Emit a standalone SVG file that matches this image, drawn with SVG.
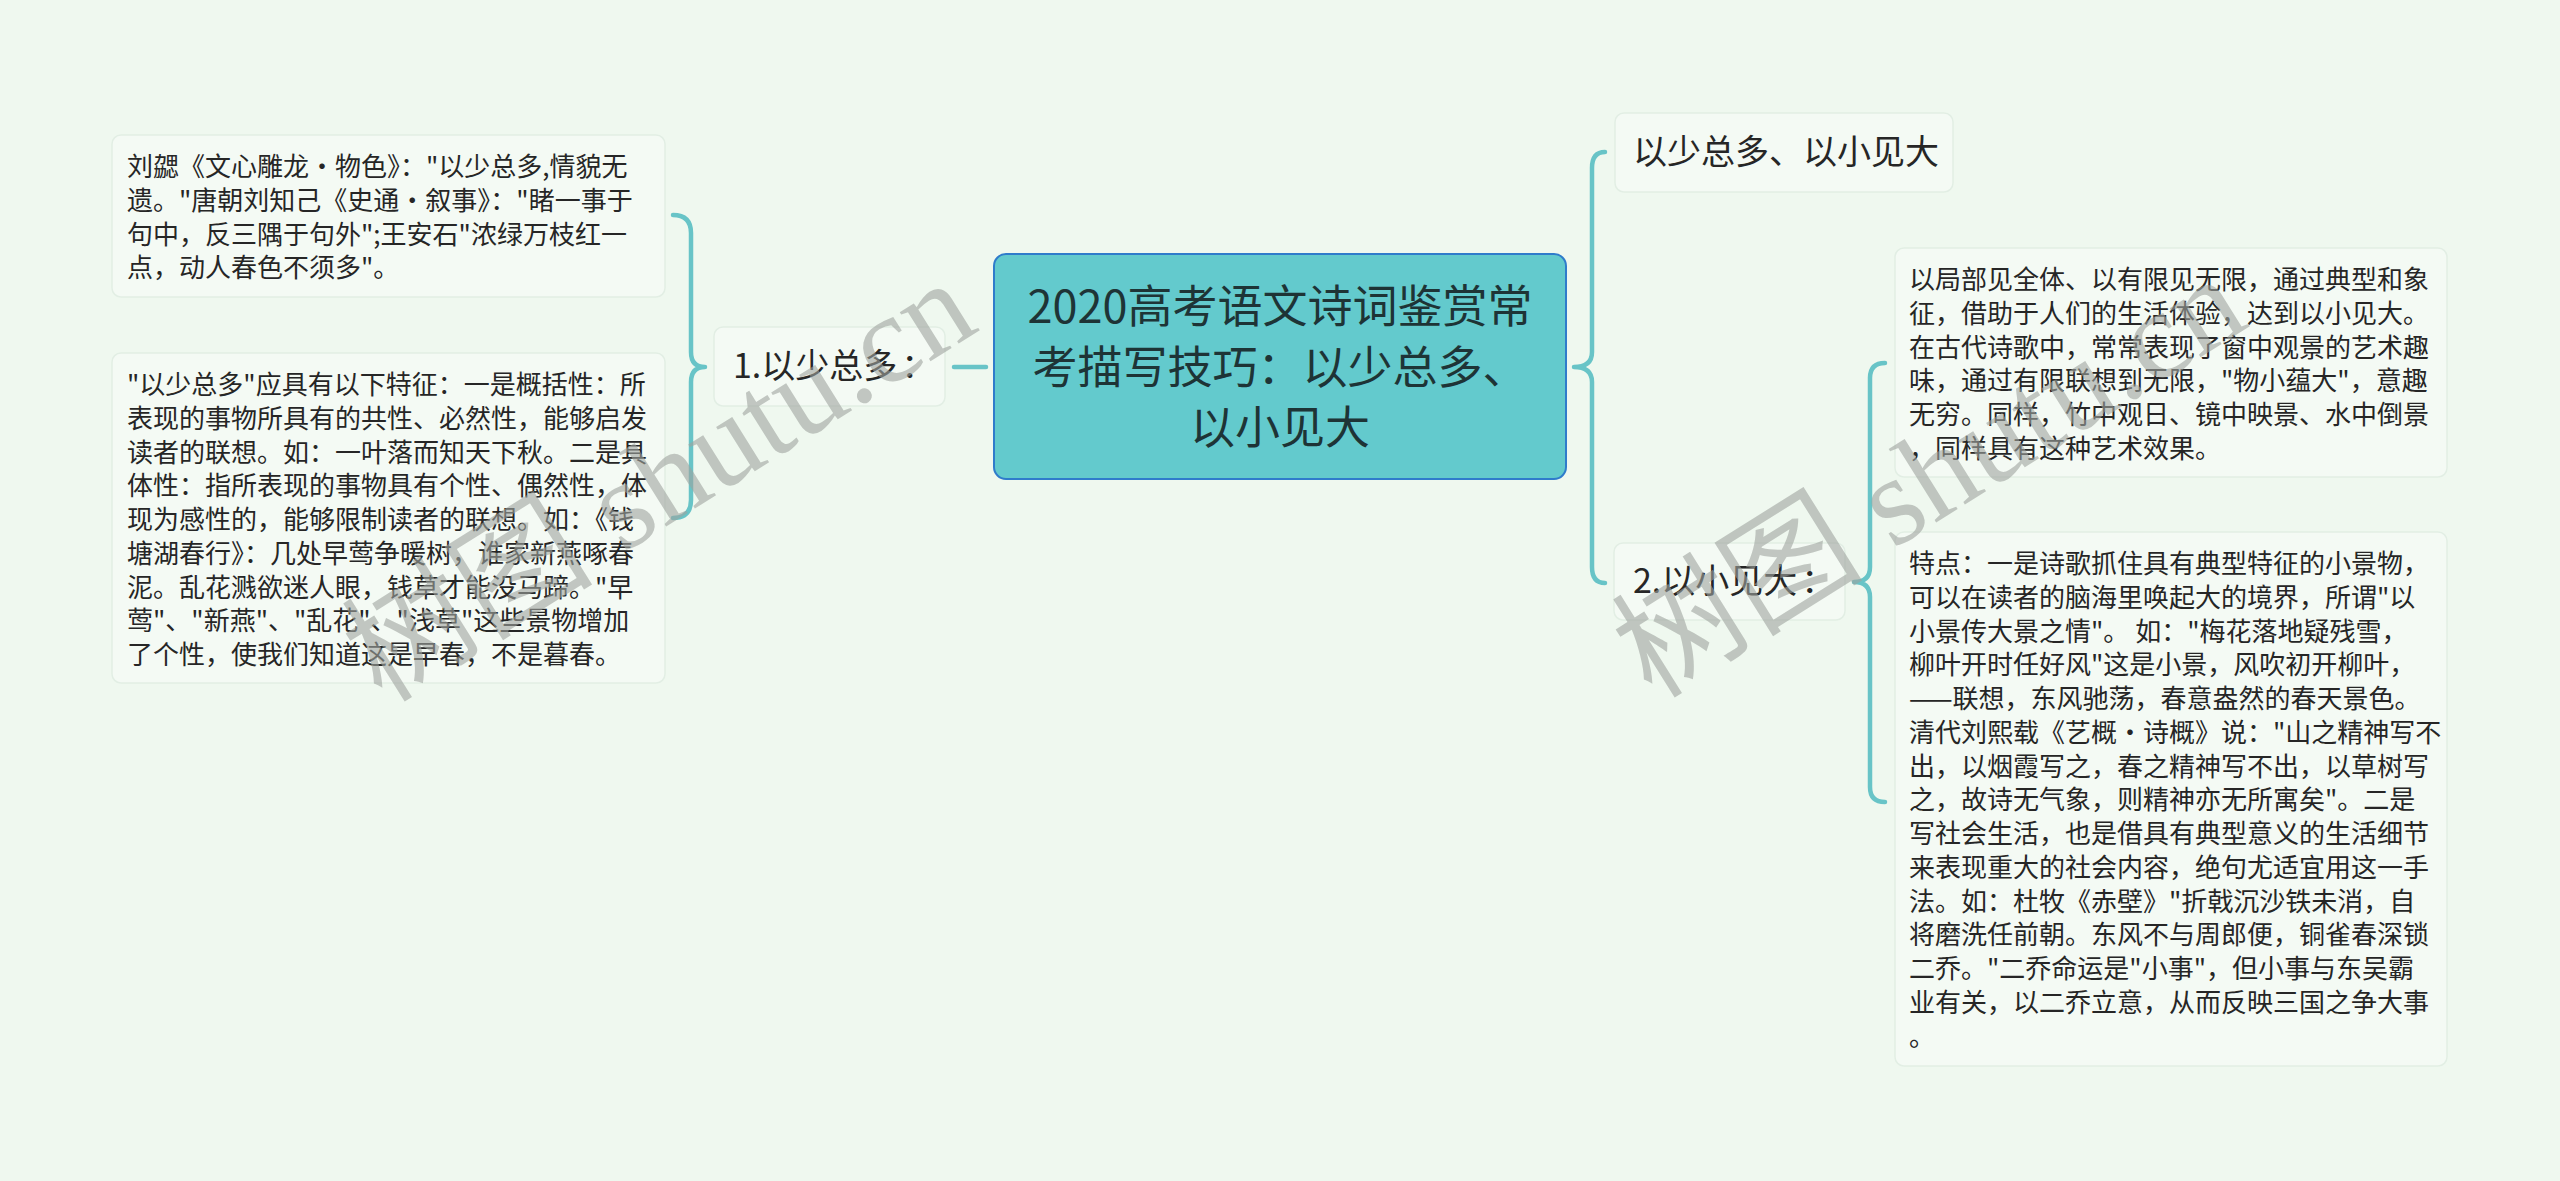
<svg xmlns="http://www.w3.org/2000/svg" width="2560" height="1181" viewBox="0 0 2560 1181">
<style>
.bg{fill:#EFF8EF}
.box{fill:#F4FAF4;stroke:#E2EEE4;stroke-width:1.5}
.center{fill:#63CACD;stroke:#2F7CCB;stroke-width:2}
.t{font-family:"Noto Sans CJK SC","Noto Sans",sans-serif;fill:#262626}
.leaf{font-size:26px}
.mid{font-size:34px}
.title{font-size:45px;fill:#1E3436;text-anchor:middle}
.link{fill:none;stroke:#68C4C7;stroke-width:4.5;stroke-linecap:round;stroke-linejoin:round}
.wm{font-family:"Liberation Serif","Noto Sans CJK SC",serif;font-size:126px;fill:#9EA39E;fill-opacity:0.6}
</style>
<rect class="bg" x="0" y="0" width="2560" height="1181"/>
<g id="connectors">
<line class="link" x1="954" y1="367" x2="986" y2="367"/>
<path class="link" d="M673,215 Q691,215 691,233 L691,352 Q691,367 705,367 Q691,367 691,382 L691,500 Q691,518 673,518"/>
<path class="link" d="M1605,152 Q1592,152 1592,168 L1592,352 Q1592,367 1574,367 Q1592,367 1592,382 L1592,567 Q1592,583 1605,583"/>
<path class="link" d="M1885,363 Q1870,363 1870,378 L1870,567 Q1870,582 1854,582 Q1870,582 1870,597 L1870,787 Q1870,802 1885,802"/>
</g>
<g id="center">
<rect class="center" x="994" y="254" width="572" height="225" rx="12"/>
<text class="t title" x="1280" y="323">2020高考语文诗词鉴赏常</text>
<text class="t title" x="1280" y="384">考描写技巧：以少总多、</text>
<text class="t title" x="1280" y="444">以小见大</text>
</g>
<g id="node-1">
<rect class="box" x="714" y="327" width="231" height="79" rx="9"/>
<text class="t mid" x="733" y="378">1.以少总多<tspan dx="4">：</tspan></text>
</g>
<g id="leaf-1-1">
<rect class="box" x="112" y="135" width="553" height="162" rx="9"/>
<text class="t leaf" x="127" y="176">刘勰《文心雕龙•物色》："以少总多,情貌无</text>
<text class="t leaf" x="127" y="209.75">遗。"唐朝刘知己《史通•叙事》："睹一事于</text>
<text class="t leaf" x="127" y="243.5">句中，反三隅于句外";王安石"浓绿万枝红一</text>
<text class="t leaf" x="127" y="277.25">点，动人春色不须多"。</text>
</g>
<g id="leaf-1-2">
<rect class="box" x="112" y="353" width="553" height="330" rx="9"/>
<text class="t leaf" x="127" y="394">"以少总多"应具有以下特征：一是概括性：所</text>
<text class="t leaf" x="127" y="427.75">表现的事物所具有的共性、必然性，能够启发</text>
<text class="t leaf" x="127" y="461.5">读者的联想。如：一叶落而知天下秋。二是具</text>
<text class="t leaf" x="127" y="495.25">体性：指所表现的事物具有个性、偶然性，体</text>
<text class="t leaf" x="127" y="529">现为感性的，能够限制读者的联想。如：《钱</text>
<text class="t leaf" x="127" y="562.75">塘湖春行》：几处早莺争暖树，谁家新燕啄春</text>
<text class="t leaf" x="127" y="596.5">泥。乱花溅欲迷人眼，钱草才能没马蹄。"早</text>
<text class="t leaf" x="127" y="630.25">莺"、"新燕"、"乱花"、"浅草"这些景物增加</text>
<text class="t leaf" x="127" y="664">了个性，使我们知道这是早春，不是暮春。</text>
</g>
<g id="node-top">
<rect class="box" x="1615" y="113" width="338" height="79" rx="9"/>
<text class="t mid" x="1633" y="164">以少总多、以小见大</text>
</g>
<g id="node-2">
<rect class="box" x="1614" y="543" width="231" height="77" rx="9"/>
<text class="t mid" x="1633" y="593">2.以小见大<tspan dx="4">：</tspan></text>
</g>
<g id="leaf-2-1">
<rect class="box" x="1895" y="248" width="552" height="229" rx="9"/>
<text class="t leaf" x="1909" y="289">以局部见全体、以有限见无限，通过典型和象</text>
<text class="t leaf" x="1909" y="322.75">征，借助于人们的生活体验，达到以小见大。</text>
<text class="t leaf" x="1909" y="356.5">在古代诗歌中，常常表现了窗中观景的艺术趣</text>
<text class="t leaf" x="1909" y="390.25">味，通过有限联想到无限，"物小蕴大"，意趣</text>
<text class="t leaf" x="1909" y="424">无穷。同样，竹中观日、镜中映景、水中倒景</text>
<text class="t leaf" x="1909" y="457.75">，同样具有这种艺术效果。</text>
</g>
<g id="leaf-2-2">
<rect class="box" x="1895" y="532" width="552" height="534" rx="9"/>
<text class="t leaf" x="1909" y="573">特点：一是诗歌抓住具有典型特征的小景物，</text>
<text class="t leaf" x="1909" y="606.75">可以在读者的脑海里唤起大的境界，所谓"以</text>
<text class="t leaf" x="1909" y="640.5">小景传大景之情"。 如："梅花落地疑残雪，</text>
<text class="t leaf" x="1909" y="674.25">柳叶开时任好风"这是小景，风吹初开柳叶，</text>
<text class="t leaf" x="1909" y="708">——联想，东风驰荡，春意盎然的春天景色。</text>
<text class="t leaf" x="1909" y="741.75">清代刘熙载《艺概•诗概》说："山之精神写不</text>
<text class="t leaf" x="1909" y="775.5">出，以烟霞写之，春之精神写不出，以草树写</text>
<text class="t leaf" x="1909" y="809.25">之，故诗无气象，则精神亦无所寓矣"。二是</text>
<text class="t leaf" x="1909" y="843">写社会生活，也是借具有典型意义的生活细节</text>
<text class="t leaf" x="1909" y="876.75">来表现重大的社会内容，绝句尤适宜用这一手</text>
<text class="t leaf" x="1909" y="910.5">法。如：杜牧《赤壁》"折戟沉沙铁未消，自</text>
<text class="t leaf" x="1909" y="944.25">将磨洗任前朝。东风不与周郎便，铜雀春深锁</text>
<text class="t leaf" x="1909" y="978">二乔。"二乔命运是"小事"，但小事与东吴霸</text>
<text class="t leaf" x="1909" y="1011.75">业有关，以二乔立意，从而反映三国之争大事</text>
<text class="t leaf" x="1909" y="1045.5">。</text>
</g>
<g id="watermark">
<text class="wm" transform="translate(382,704) rotate(-32)">树图 shutu.cn</text>
<text class="wm" transform="translate(1652,700) rotate(-32)">树图 shutu.cn</text>
</g>
</svg>
